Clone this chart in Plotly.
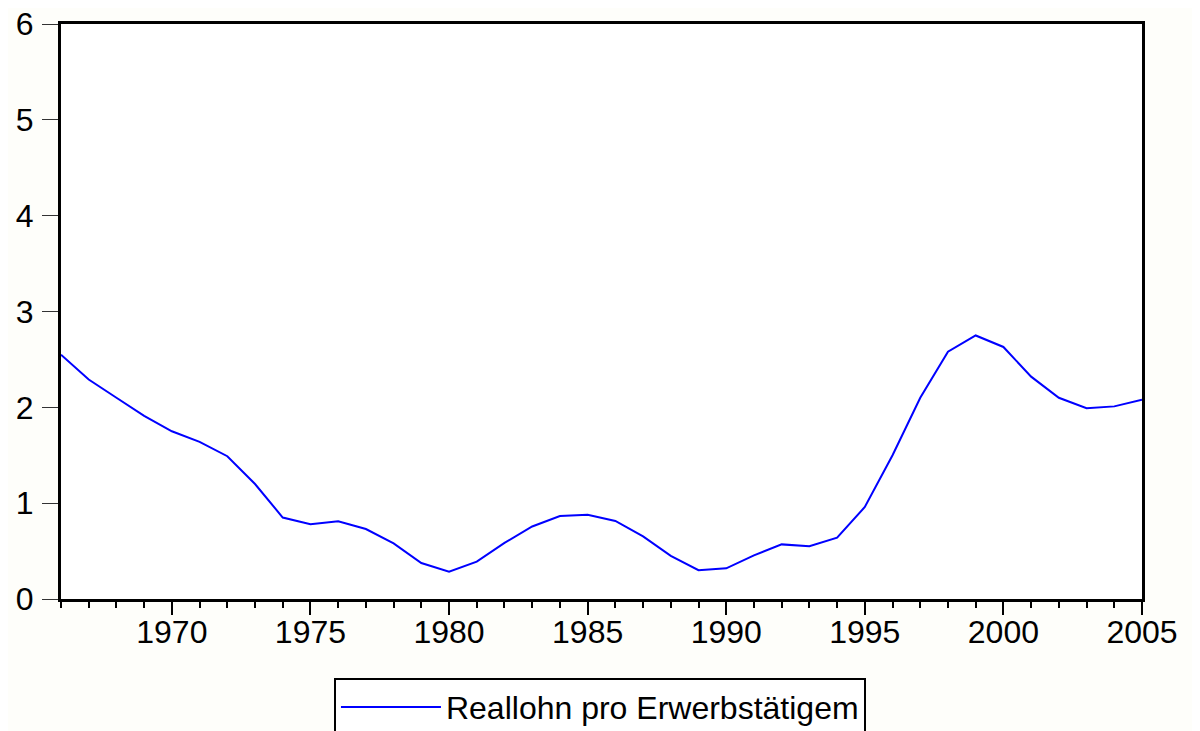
import plotly.graph_objects as go

years = list(range(1966, 2006))
reallohn = [2.55, 2.29, 2.10, 1.91, 1.75, 1.64, 1.49, 1.20, 0.85, 0.78,
            0.81, 0.73, 0.58, 0.375, 0.285, 0.39, 0.585, 0.757, 0.865, 0.88,
            0.815, 0.653, 0.45, 0.30, 0.32, 0.455, 0.57, 0.55, 0.64, 0.96,
            1.50, 2.10, 2.58, 2.75, 2.63, 2.32, 2.10, 1.99, 2.01, 2.08]
series_name = "Reallohn pro Erwerbstätigem"
x_tickvals = [1970, 1975, 1980, 1985, 1990, 1995, 2000, 2005]
y_tickvals = [0, 1, 2, 3, 4, 5, 6]

FONT = "Liberation Sans, Arial, sans-serif"

fig = go.Figure()
fig.add_trace(go.Scatter(
    x=years, y=reallohn, mode="lines", name=series_name,
    line=dict(color="#0000ff", width=2),
    showlegend=True,
))

fig.update_layout(
    width=1200, height=731,
    margin=dict(l=53, r=66, t=16, b=140, autoexpand=False),
    paper_bgcolor="#fefefa",
    plot_bgcolor="#ffffff",
    font=dict(family=FONT, size=32, color="#000000"),
    showlegend=True,
    legend=dict(
        orientation="h",
        xref="container", yref="container",
        x=0.4933, xanchor="center",
        y=0.084, yanchor="top",
        bordercolor="#000000", borderwidth=2,
        bgcolor="#ffffff",
        font=dict(family=FONT, size=32, color="#000000"),
        itemwidth=100,
    ),
)

fig.update_xaxes(
    range=[1966, 2005],
    tickmode="array", tickvals=x_tickvals,
    ticks="outside", ticklen=13, tickwidth=2, tickcolor="#000000",
    minor=dict(dtick=1, tick0=1966, ticks="outside", ticklen=6,
               tickwidth=2, tickcolor="#000000", showgrid=False),
    showline=True, linewidth=3, linecolor="#000000", mirror=True,
    showgrid=False, zeroline=False,
    ticklabelstandoff=-10,
    ticklabeloverflow="allow",
    tickfont=dict(family=FONT, size=32, color="#000000"),
)
fig.update_yaxes(
    range=[0, 6],
    tickmode="array", tickvals=y_tickvals,
    ticks="outside", ticklen=16, tickwidth=1, tickcolor="#333333",
    ticklabelstandoff=2,
    ticklabeloverflow="allow",
    showline=True, linewidth=3, linecolor="#000000", mirror=True,
    showgrid=False, zeroline=False,
    tickfont=dict(family=FONT, size=32, color="#000000"),
)

fig.write_html("out.html")
